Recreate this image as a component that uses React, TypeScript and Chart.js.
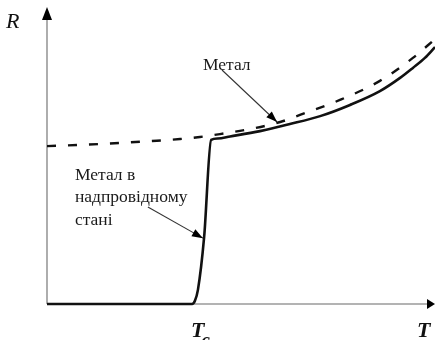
import React, { useEffect, useRef } from "react";
import { Chart, registerables } from "chart.js";

Chart.register(...registerables);

// Temperature (T) positions, arbitrary units 0..10
const solidT = [0, 3.74, 3.81, 3.89, 4.05, 4.23, 4.4, 4.72, 5.49, 6.26, 7.04, 7.81, 8.58, 9.1, 9.43, 9.74, 10.0];
// Resistance (R) of the superconducting metal
const solidR = [0, 0, 0.1, 0.48, 2.28, 5.58, 5.63, 5.7, 5.88, 6.12, 6.39, 6.77, 7.24, 7.69, 8.03, 8.37, 8.74];

const dashedT = [0, 1.37, 2.65, 3.43, 3.94, 4.46, 5.23, 6.01, 6.52, 7.55, 8.58, 9.43, 10.0];
// Resistance of the normal metal
const dashedR = [5.37, 5.44, 5.54, 5.61, 5.68, 5.78, 5.95, 6.19, 6.43, 6.94, 7.59, 8.37, 9.01];

const tcValue = 3.74;
const axisLabels = { y: "R", x: "T", tc: "T", tcSub: "c" };
const metalLabel = "Метал";
const superLabel = ["Метал в", "надпровідному", "стані"];
// annotation arrows: [fromT, fromR, toT, toR]
const metalArrow = [4.51, 7.96, 5.93, 6.19];
const superArrow = [2.6, 3.3, 4.02, 2.24];
const metalLabelPos = [4.02, 8.13];
const superLabelPos = [0.72, 4.39];
const superLineStep = 0.77;

function arrowHead(ctx: CanvasRenderingContext2D, x1: number, y1: number, x2: number, y2: number, len: number, half: number) {
  const a = Math.atan2(y2 - y1, x2 - x1);
  ctx.beginPath();
  ctx.moveTo(x2, y2);
  ctx.lineTo(x2 - len * Math.cos(a) + half * Math.sin(a), y2 - len * Math.sin(a) - half * Math.cos(a));
  ctx.lineTo(x2 - len * Math.cos(a) - half * Math.sin(a), y2 - len * Math.sin(a) + half * Math.cos(a));
  ctx.closePath();
  ctx.fill();
}

const axesPlugin = {
  id: "axesPlugin",
  beforeDatasetsDraw(chart: any) {
    const ctx = chart.ctx as CanvasRenderingContext2D;
    const xs = chart.scales.x;
    const ys = chart.scales.y;
    const x0 = xs.getPixelForValue(0);
    const y0 = ys.getPixelForValue(0);
    const yTop = ys.getPixelForValue(10.1);
    const xRight = xs.getPixelForValue(10);
    ctx.save();
    ctx.strokeStyle = "#9a9a9a";
    ctx.lineWidth = 1.6;
    ctx.beginPath();
    ctx.moveTo(x0, y0);
    ctx.lineTo(x0, yTop + 10);
    ctx.moveTo(x0, y0);
    ctx.lineTo(xRight - 6, y0);
    ctx.stroke();
    ctx.fillStyle = "#000";
    arrowHead(ctx, x0, y0, x0, yTop, 13, 5);
    arrowHead(ctx, x0, y0, xRight, y0, 8, 5);
    ctx.restore();
  },
  afterDatasetsDraw(chart: any) {
    const ctx = chart.ctx as CanvasRenderingContext2D;
    const xs = chart.scales.x;
    const ys = chart.scales.y;
    const px = (v: number) => xs.getPixelForValue(v);
    const py = (v: number) => ys.getPixelForValue(v);
    ctx.save();
    ctx.fillStyle = "#111";
    ctx.textBaseline = "alphabetic";
    // axis labels
    ctx.font = "italic 22px 'Liberation Serif'";
    ctx.textAlign = "left";
    ctx.fillText(axisLabels.y, 6, 28);
    ctx.font = "italic bold 22px 'Liberation Serif'";
    ctx.fillText(axisLabels.x, 417, 337);
    const tcX = px(tcValue);
    ctx.fillText(axisLabels.tc, tcX - 1, 337);
    const tw = ctx.measureText(axisLabels.tc).width;
    ctx.font = "italic bold 19px 'Liberation Serif'";
    ctx.fillText(axisLabels.tcSub, tcX + tw - 4, 346);

    // annotation texts
    ctx.font = "17.5px 'Liberation Serif'";
    ctx.fillStyle = "#1a1a1a";
    ctx.textBaseline = "middle";
    ctx.fillText(metalLabel, px(metalLabelPos[0]), py(metalLabelPos[1]));
    superLabel.forEach((s, i) => {
      ctx.fillText(s, px(superLabelPos[0]), py(superLabelPos[1] - i * superLineStep));
    });

    // arrows
    ctx.strokeStyle = "#333";
    ctx.fillStyle = "#000";
    ctx.lineWidth = 1.1;
    [metalArrow, superArrow].forEach((a) => {
      const x1 = px(a[0]), y1 = py(a[1]), x2 = px(a[2]), y2 = py(a[3]);
      ctx.beginPath();
      ctx.moveTo(x1, y1);
      ctx.lineTo(x2, y2);
      ctx.stroke();
      arrowHead(ctx, x1, y1, x2, y2, 11, 4);
    });
    ctx.restore();
  },
};

export default function App() {
  const ref = useRef<HTMLCanvasElement | null>(null);
  useEffect(() => {
    if (!ref.current) return;
    const chart = new Chart(ref.current, {
      type: "line",
      data: {
        datasets: [
          {
            data: solidT.map((t, i) => ({ x: t, y: solidR[i] })),
            borderColor: "#111",
            borderWidth: 2.6,
            pointRadius: 0,
            cubicInterpolationMode: "monotone",
            clip: 6,
          },
          {
            data: dashedT.map((t, i) => ({ x: t, y: dashedR[i] })),
            borderColor: "#111",
            borderWidth: 2.4,
            borderDash: [9, 12],
            pointRadius: 0,
            cubicInterpolationMode: "monotone",
            clip: 6,
          },
        ],
      } as any,
      options: {
        animation: false,
        responsive: false,
        layout: { padding: { left: 47, right: 0, top: 10, bottom: 36 } },
        scales: {
          x: { type: "linear", display: false, min: 0, max: 10 },
          y: { type: "linear", display: false, min: 0, max: 10 },
        },
        plugins: { legend: { display: false }, tooltip: { enabled: false } },
      },
      plugins: [axesPlugin],
    });
    return () => chart.destroy();
  }, []);
  return (
    <div style={{ position: "fixed", left: 0, top: 0, width: 435, height: 340, background: "#fff" }}>
      <canvas ref={ref} width={435} height={340} style={{ display: "block" }} />
    </div>
  );
}
